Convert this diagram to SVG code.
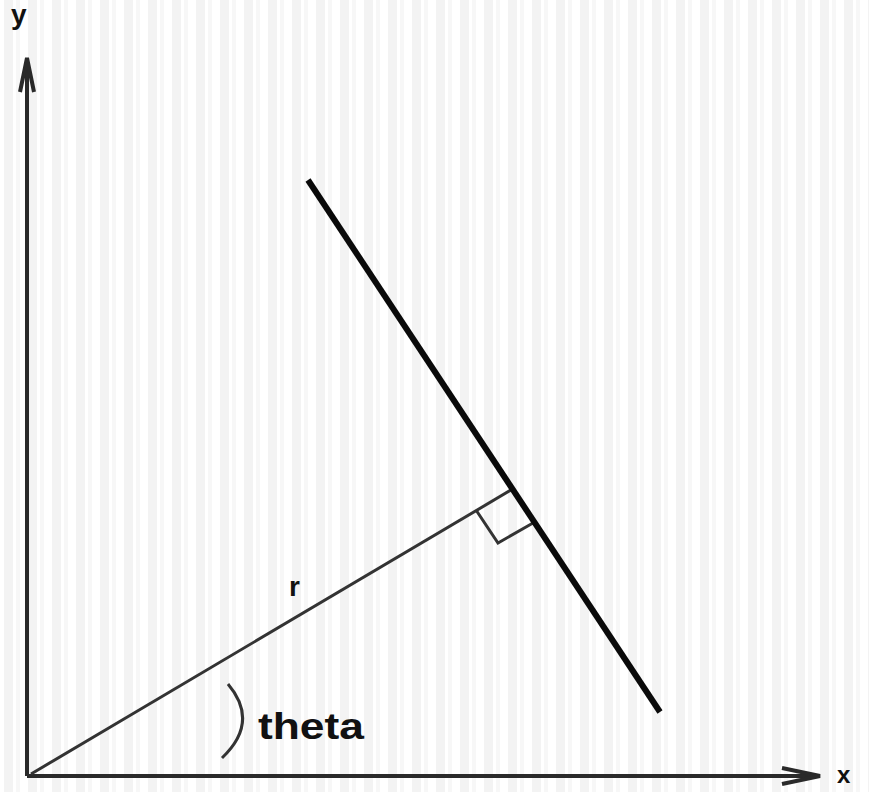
<svg xmlns="http://www.w3.org/2000/svg" width="869" height="792" viewBox="0 0 869 792">
<defs>
<pattern id="stripes" x="0" y="0" width="24" height="792" patternUnits="userSpaceOnUse">
<rect x="0" y="0" width="24" height="792" fill="#ffffff"/>
<rect x="4" y="0" width="9" height="792" fill="#f3f3f3"/>
<rect x="16" y="0" width="4" height="792" fill="#f7f7f7"/>
</pattern>
<style>
.axis{stroke:#2a2a2a;stroke-width:4;fill:none}
.thin{stroke:#333;stroke-width:3;fill:none}
.lbl{font-family:"Liberation Sans",Arial,sans-serif;font-weight:bold;fill:#111}
</style>
</defs>
<rect width="869" height="792" fill="url(#stripes)"/>
<g id="connectors">
<path class="axis" d="M27 776 V62"/>
<path class="axis" d="M20 92 L27 58 L34 92" stroke-width="3"/>
<path class="axis" d="M27 776 H818" stroke="#555" stroke-width="5"/>
<path class="axis" d="M782 768 L820 776 L782 784" stroke-width="3"/>
<path class="thin" d="M31 774 L511 490" stroke="#444"/>
<path class="thin" d="M476 510 L498 543 L533 523" stroke="#444"/>
<path d="M228 684 Q260 722 222 758" class="thin" stroke="#555"/>
</g>
<g id="line">
<path d="M308 180 L660 712" stroke="#0a0a0a" stroke-width="6" fill="none"/>
</g>
<g id="labels">
<text class="lbl" x="11" y="24" font-size="28">y</text>
<text class="lbl" x="837" y="783" font-size="24">x</text>
<text class="lbl" x="289" y="596" font-size="28">r</text>
<text class="lbl" x="258" y="739" font-size="36" textLength="106" lengthAdjust="spacingAndGlyphs">theta</text>
</g>
</svg>
